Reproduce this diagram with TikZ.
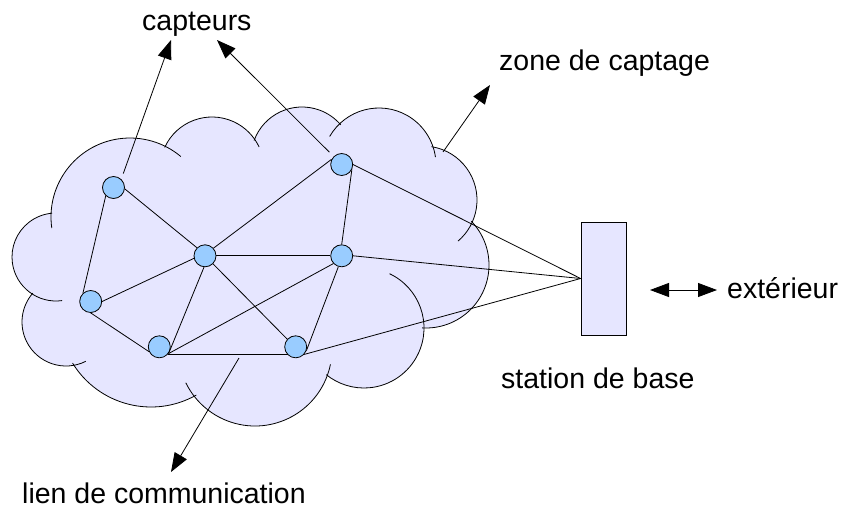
\documentclass[tikz,border=0pt]{standalone}
\usepackage{fontspec}
\setmainfont{Liberation Sans}
\usetikzlibrary{arrows.meta}
\definecolor{cloudfill}{HTML}{E6E6FF}
\definecolor{sensorfill}{HTML}{99CCFF}
\pgfdeclarelayer{bg}
\pgfsetlayers{bg,main}
\begin{document}
\begin{tikzpicture}[x=1pt,y=1pt,
  sensorbox/.style={circle, draw=black, fill=sensorfill, line width=0.8pt, minimum size=22pt, inner sep=0pt},
  linkline/.style={draw=black, line width=0.8pt},
  lobeline/.style={draw=black, line width=0.8pt},
  arrowline/.style={draw=black, line width=0.8pt, -{Triangle[length=19pt,width=14pt]}},
  txt/.style={anchor=base west, inner sep=0pt, font=\fontsize{28.5}{34}\selectfont}]
\useasboundingbox (0,0) rectangle (843,-509);

% sensors
\node[sensorbox] (n1) at (113.5,-187.5) {};
\node[sensorbox] (n2) at (90.7,-301.5) {};
\node[sensorbox] (n3) at (205,-255.8) {};
\node[sensorbox] (n4) at (159.3,-346.8) {};
\node[sensorbox] (n5) at (341.7,-164.5) {};
\node[sensorbox] (n6) at (341.7,-255.8) {};
\node[sensorbox] (n7) at (295.7,-346.8) {};

% base station
\node[draw=black, fill=cloudfill, line width=0.8pt, minimum width=45pt, minimum height=113pt, inner sep=0pt] (station) at (603.5,-278.5) {};

\begin{pgfonlayer}{bg}
  % cloud body: polygon through the lobe centres plus the lobe discs
  \fill[cloudfill] (130,-217) -- (212,-169) -- (302,-158) -- (379,-165) -- (423,-200)
    -- (426,-265) -- (364,-328) -- (255,-349) -- (151,-315) -- (66,-322) -- (56,-257) -- cycle;
  \fill[cloudfill]
    (130,-217) circle[radius=79] (212,-169) circle[radius=52] (302,-158) circle[radius=51]
    (379,-165) circle[radius=57] (423,-200) circle[radius=54] (426,-265) circle[radius=63]
    (364,-328) circle[radius=60] (255,-349) circle[radius=77] (151,-315) circle[radius=92]
    (66,-322) circle[radius=44] (56,-257) circle[radius=44];
  % cloud outline, one arc per lobe
  \draw[lobeline] ([shift={(188:79)}]130,-217) arc[start angle=188, end angle=50, radius=79];
  \draw[lobeline] ([shift={(155.5:52)}]212,-169) arc[start angle=155.5, end angle=25, radius=52];
  \draw[lobeline] ([shift={(160:51)}]302,-158) arc[start angle=160, end angle=40.5, radius=51];
  \draw[lobeline] ([shift={(150:57)}]379,-165) arc[start angle=150, end angle=8, radius=57];
  \draw[lobeline] ([shift={(81:54)}]423,-200) arc[start angle=81, end angle=-49.6, radius=54];
  \draw[lobeline] ([shift={(44:63)}]426,-265) arc[start angle=44, end angle=-93.5, radius=63];
  \draw[lobeline] ([shift={(64.8:60)}]364,-328) arc[start angle=64.8, end angle=-129, radius=60];
  \draw[lobeline] ([shift={(-11.5:77)}]255,-349) arc[start angle=-11.5, end angle=-154, radius=77];
  \draw[lobeline] ([shift={(-60.5:92)}]151,-315) arc[start angle=-60.5, end angle=-148.5, radius=92];
  \draw[lobeline] ([shift={(-63.4:44)}]66,-322) arc[start angle=-63.4, end angle=-221, radius=44];
  \draw[lobeline] ([shift={(-82:44)}]56,-257) arc[start angle=-82, end angle=-265, radius=44];

  % communication links
  \draw[linkline] (n1.-133) -- (n2.133);
  \draw[linkline] (n1.-7) -- (n3.135);
  \draw[linkline] (n2.0) -- (n3.193);
  \draw[linkline] (n2.-90) -- (n4.-155);
  \draw[linkline] (n3.-95) -- (n4.-34);
  \draw[linkline] (n3.42) -- (n5.153);
  \draw[linkline] (n3.0) -- (n6.180);
  \draw[linkline] (n3.-45) -- (n7.138);
  \draw[linkline] (n4.-37) -- (n6.-137);
  \draw[linkline] (n4.-44) -- (n7.-136);
  \draw[linkline] (n5.-27) -- (n6.90);
  \draw[linkline] (n6.-107) -- (n7.-20);
  \draw[linkline] (n5.0) -- (station.west);
  \draw[linkline] (n6.0) -- (station.west);
  \draw[linkline] (n7.-42) -- (station.west);
\end{pgfonlayer}

% labels
\node[txt] (capteurs) at (142,-30.5) {capteurs};
\node[txt] (zone) at (499,-70) {zone de captage};
\node[txt] (ext) at (727,-298) {extérieur};
\node[txt] (base) at (501,-388) {station de base};
\node[txt] (lien) at (22,-503) {lien de communication};

% pointers
\coordinate (capA) at (171,-40);
\coordinate (capB) at (217,-40);
\coordinate (zoneFoot) at (443,-152);
\coordinate (zoneTip) at (490,-85);
\coordinate (linkFoot) at (239,-358);
\coordinate (linkTip) at (171,-472);
\coordinate (extL) at (650,-290);
\coordinate (extR) at (717,-290);
\draw[arrowline, shorten <=6pt] (n1.47) -- (capA);
\draw[arrowline, shorten <=6pt] (n5.135) -- (capB);
\draw[arrowline] (zoneFoot) -- (zoneTip);
\draw[arrowline] (linkFoot) -- (linkTip);
\draw[draw=black, line width=0.8pt, {Triangle[length=19pt,width=14pt]}-{Triangle[length=19pt,width=14pt]}] (extL) -- (extR);
\end{tikzpicture}
\end{document}
